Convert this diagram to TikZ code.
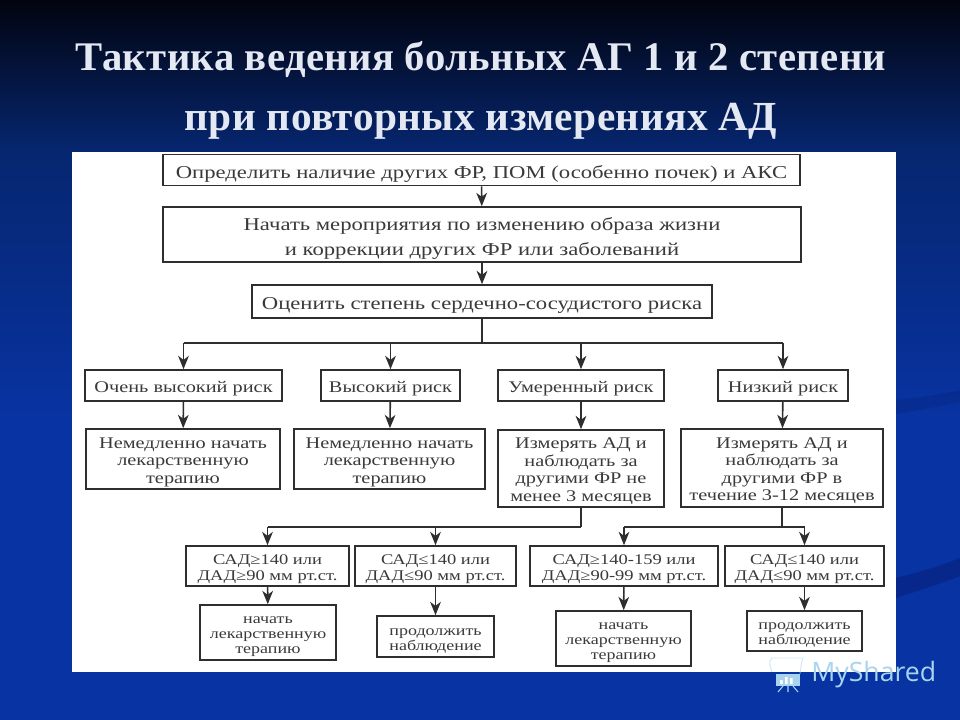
\documentclass[tikz,border=0pt]{standalone}
\usepackage{fontspec}
\setmainfont{Liberation Serif}
\newfontfamily\logofont{Open Sans}
\newfontfamily\widefont[FakeStretch=1.25]{Liberation Serif}
\newfontfamily\titlefont[LetterSpace=1,BoldFont={Liberation Serif Bold}]{Liberation Serif}
\usetikzlibrary{arrows.meta,calc}
\newcommand\lowered[1]{\raisebox{-2.4pt}[\height][\depth]{\begin{tabular}{@{}c@{}}#1\end{tabular}}}
\definecolor{inkc}{HTML}{3A3A3A}
\definecolor{linec}{HTML}{2E2E2E}
\definecolor{bgtop}{HTML}{02040F}
\definecolor{bgmid}{HTML}{06266F}
\definecolor{bgbot}{HTML}{0833A2}
\definecolor{swoosh}{HTML}{07288A}
\definecolor{titlec}{HTML}{E4E8F2}
\definecolor{logoc}{HTML}{A9D4F0}
\tikzset{
  x=0.75pt,y=-0.75pt,
  wh/.style 2 args={minimum width=#1*0.75pt,minimum height=#2*0.75pt},
  box/.style={draw=linec,line width=1.2pt,fill=white,inner sep=0pt,text=inkc,font=\widefont\fontsize{13.6}{18.75}\selectfont},
  boxb/.style={box,font=\widefont\fontsize{12.2}{13.1}\selectfont},
  boxc/.style={box,font=\widefont\fontsize{11.1}{12}\selectfont},
  boxd/.style={box,font=\widefont\fontsize{10.8}{11.3}\selectfont},
  arr/.style={draw=linec,line width=1.2pt,-{Stealth[length=10pt,width=8pt,inset=3pt]}},
  trunk/.style={draw=linec,line width=1.8pt},
  titletext/.style={text=titlec,font=\titlefont\bfseries\fontsize{30.5}{32}\selectfont,inner sep=0pt,anchor=base},
  titletextb/.style={titletext,font=\titlefont\bfseries\fontsize{31}{32}\selectfont},
  logotext/.style={text=logoc,font=\logofont\fontsize{20}{24}\selectfont,inner sep=0pt}
}
\begin{document}
\begin{tikzpicture}
\useasboundingbox (0,0) rectangle (960,720);
\shade[top color=bgtop,bottom color=bgmid] (0,0) rectangle (960,150);
\shade[top color=bgmid,bottom color=bgbot] (0,150) rectangle (960,420);
\fill[bgbot] (0,420) rectangle (960,720);
\fill[swoosh,opacity=.6] (896,400) .. controls (920,398) and (940,394) .. (960,390) -- (960,402) .. controls (940,406) and (920,410) .. (896,414) -- cycle;
\fill[swoosh] (896,578) .. controls (920,572) and (940,566) .. (960,558) -- (960,576) .. controls (940,584) and (920,590) .. (896,598) -- cycle;
\node[titletext] (t1) at (481,71) {Тактика ведения больных АГ 1 и 2 степени};
\node[titletextb] (t2) at (481,131) {при повторных измерениях АД};
\fill[white] (72,152) rectangle (896,672);

\node[box,wh={637}{31}] (a) at (481.5,170) {\lowered{Определить наличие других ФР, ПОМ (особенно почек) и АКС}};
\node[box,wh={638}{55}] (b) at (482,234.5) {\lowered{Начать мероприятия по изменению образа жизни\\и коррекции других ФР или заболеваний}};
\node[box,wh={460}{33}] (c) at (482,301.5) {\lowered{Оценить степень сердечно-сосудистого риска}};

\node[boxb,wh={197}{31}] (r1) at (183.5,385.5) {\lowered{Очень высокий риск}};
\node[boxb,wh={139}{31}] (r2) at (390.5,385.5) {\lowered{Высокий риск}};
\node[boxb,wh={166}{31}] (r3) at (581,385.5) {\lowered{Умеренный риск}};
\node[boxb,wh={130}{31}] (r4) at (783,385.5) {\lowered{Низкий риск}};

\node[boxb,wh={194}{60}] (m1) at (183,459) {\lowered{Немедленно начать\\лекарственную\\терапию}};
\node[boxb,wh={191}{60}] (m2) at (389.5,459) {\lowered{Немедленно начать\\лекарственную\\терапию}};
\node[boxb,wh={166}{77}] (m3) at (581,468.5) {\lowered{Измерять АД и\\наблюдать за\\другими ФР не\\менее 3 месяцев}};
\node[boxb,wh={202}{78}] (m4) at (782,468) {\lowered{Измерять АД и\\наблюдать за\\другими ФР в\\течение 3-12 месяцев}};

\node[boxc,wh={163}{40}] (s1) at (267.5,566) {\lowered{САД≥140 или\\ДАД≥90 мм рт.ст.}};
\node[boxc,wh={161}{40}] (s2) at (435.5,566) {\lowered{САД≤140 или\\ДАД≤90 мм рт.ст.}};
\node[boxc,wh={188}{40}] (s3) at (624,566) {\lowered{САД≥140-159 или\\ДАД≥90-99 мм рт.ст.}};
\node[boxc,wh={159}{40}] (s4) at (804.5,566) {\lowered{САД≤140 или\\ДАД≤90 мм рт.ст.}};

\node[boxd,wh={136}{55}] (e1) at (268,632.5) {\lowered{начать\\лекарственную\\терапию}};
\node[boxd,wh={117}{41}] (e2) at (435.5,636.5) {\lowered{продолжить\\наблюдение}};
\node[boxd,wh={135}{55}] (e3) at (623.5,638.5) {\lowered{начать\\лекарственную\\терапию}};
\node[boxd,wh={115}{40}] (e4) at (804.5,631) {\lowered{продолжить\\наблюдение}};

\draw[arr] (a) -- (b);
\draw[arr] (b) -- (c);

\coordinate (j1) at (c.south |- 0,343);
\draw[trunk] (c.south) -- (j1);
\draw[trunk] (r1.north |- j1) -- (r4.north |- j1);
\foreach \n in {r1,r2,r3,r4} \draw[arr] (\n.north |- j1) -- (\n.north);

\draw[arr] (r1) -- (m1);
\draw[arr] (r2) -- (m2);
\draw[arr] (r3) -- (m3);
\draw[arr] (r4) -- (m4);

\coordinate (j2) at (m3.south |- 0,527);
\draw[trunk] (m3.south) -- (j2);
\draw[trunk] (s1.north |- j2) -- (j2);
\foreach \n in {s1,s2} \draw[arr] (\n.north |- j2) -- (\n.north);

\coordinate (j3) at (m4.south |- 0,527);
\draw[trunk] (m4.south) -- (j3);
\draw[trunk] (s3.north |- j3) -- (s4.north |- j3);
\foreach \n in {s3,s4} \draw[arr] (\n.north |- j3) -- (\n.north);

\draw[arr] (s1) -- (e1);
\draw[arr] (s2) -- (e2);
\draw[arr] (s3) -- (e3);
\draw[arr] (s4) -- (e4);

% logo
\node[logotext,anchor=west] (logo) at (811,675) {MyShared};
\draw[logoc,line width=.7pt,opacity=.55] (772,672) .. controls (770,665) and (768,662) .. (772,658) -- (803,658) .. controls (801,662) and (801,668) .. (800,674);
\fill[logoc] (776,674) rectangle (800,686);
\fill[white] (780,680) rectangle (782.5,684) (785,677) rectangle (787.5,684) (790,678) rectangle (792.5,684);
\draw[logoc,line width=.8pt] (783,686) -- (778,692) (788,686) -- (788,692) (793,686) -- (798,692);
\end{tikzpicture}
\end{document}
